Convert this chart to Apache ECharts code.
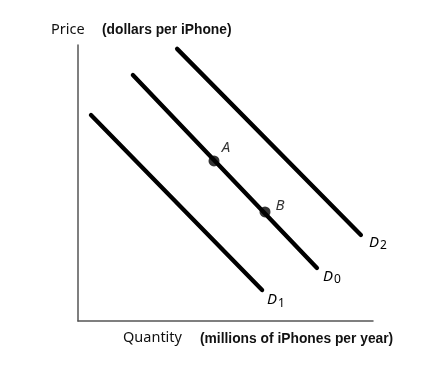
<!DOCTYPE html>
<html>
<head>
<meta charset="utf-8">
<script src="https://cdn.jsdelivr.net/npm/echarts@6/dist/echarts.min.js"></script>
<style>html,body{margin:0;padding:0;background:#fff}#c{width:430px;height:371px}</style>
</head>
<body>
<div id="c"></div>
<script>
// Curves (x: quantity 0-100, y: price 0-100)
const curveNames = ['D1', 'D0', 'D2'];
const curveSubs = ['1', '0', '2'];
const d1 = [[4.4, 74.6], [62.4, 11.2]];
const d0 = [[18.6, 89.1], [81.0, 19.2]];
const d2 = [[33.6, 98.6], [95.9, 31.2]];
const pointNames = ['A', 'B'];
const points = [[46.1, 58.0], [63.4, 39.5]];
const yTitle = ['Price', '(dollars per iPhone)'];
const xTitle = ['Quantity', '(millions of iPhones per year)'];

const chart = echarts.init(document.getElementById('c'), null, {renderer: 'canvas'});

const labelRich = {
  d: {fontFamily: 'Noto Sans', fontStyle: 'italic', fontSize: 15, color: '#000'},
  s: {fontFamily: 'Noto Sans', fontSize: 12, color: '#000', padding: [6, 0, 0, 1]}
};
const offsets = [[-3, 10], [-2, 9], [0, 8]];
const curves = [d1, d0, d2];

const series = curves.map((data, i) => ({
  type: 'line',
  name: curveNames[i],
  data: data,
  showSymbol: false,
  symbol: 'none',
  lineStyle: {color: '#000', width: 4.3, cap: 'round'},
  silent: true,
  animation: false,
  endLabel: {
    show: true,
    formatter: '{d|D}{s|' + curveSubs[i] + '}',
    rich: labelRich,
    offset: offsets[i]
  }
}));

const ptOffsets = [[12, -13], [15, -6]];
series.push({
  type: 'scatter',
  data: points.map((p, i) => ({
    value: p,
    label: {
      show: true,
      formatter: pointNames[i],
      position: 'inside',
      offset: ptOffsets[i],
      fontFamily: 'Noto Sans', fontStyle: 'italic', fontSize: 15, color: '#000'
    }
  })),
  symbol: 'circle',
  symbolSize: 11,
  itemStyle: {color: '#000'},
  animation: false,
  z: 5
});

chart.setOption({
  animation: false,
  grid: {left: 78, top: 45, right: 57, bottom: 50},
  xAxis: {
    type: 'value', min: 0, max: 100,
    axisLine: {show: true, onZero: false, lineStyle: {color: '#555', width: 1.5}},
    axisTick: {show: false}, axisLabel: {show: false}, splitLine: {show: false}
  },
  yAxis: {
    type: 'value', min: 0, max: 100,
    axisLine: {show: true, onZero: false, lineStyle: {color: '#555', width: 1.5}},
    axisTick: {show: false}, axisLabel: {show: false}, splitLine: {show: false}
  },
  graphic: [
    {type: 'text', left: 51, top: 22, style: {text: yTitle[0], font: '14.5px "Noto Sans"', fill: '#111'}},
    {type: 'text', left: 102, top: 23, style: {text: yTitle[1], font: 'bold 13.8px "Liberation Sans"', fill: '#111'}},
    {type: 'text', left: 123, top: 330, style: {text: xTitle[0], font: '14.5px "Noto Sans"', fill: '#111'}},
    {type: 'text', left: 200, top: 332, style: {text: xTitle[1], font: 'bold 13.8px "Liberation Sans"', fill: '#111'}}
  ],
  series: series
});
</script>
</body>
</html>
